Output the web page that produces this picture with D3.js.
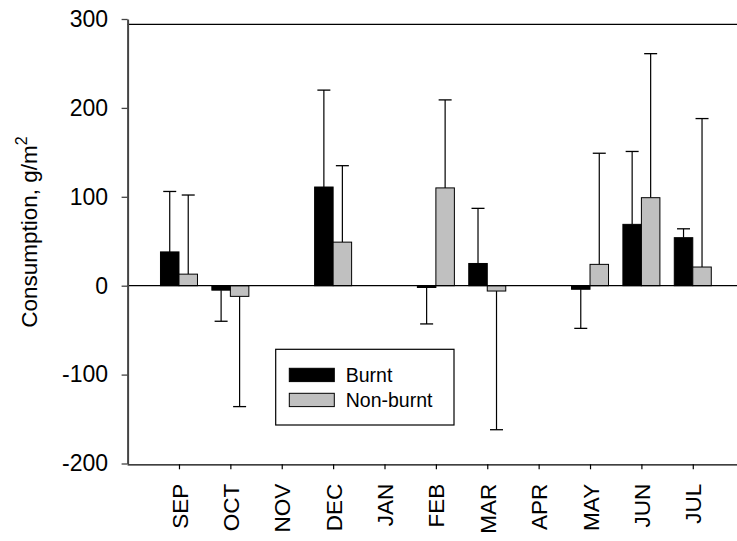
<!DOCTYPE html>
<html>
<head>
<meta charset="utf-8">
<script src="https://cdn.jsdelivr.net/npm/d3@7"></script>
<style>
  html, body { margin: 0; padding: 0; background: #fff; }
  svg { display: block; font-family: "Liberation Sans", Arial, sans-serif; }
</style>
</head>
<body>
<svg id="chart" width="737" height="541"></svg>
<script>
// Monthly consumption (g/m²) with one-sided error bars
const months = ["SEP", "OCT", "NOV", "DEC", "JAN", "FEB", "MAR", "APR", "MAY", "JUN", "JUL"];
const burnt = [38, -5, 0, 111, 0, -2, 25, 0, -4, 69, 54];
const burntErr = [68, 35, 0, 109, 0, 41, 62, 0, 44, 82, 10];
const nonBurnt = [13, -12, 0, 49, 0, 110, -6, 0, 24, 99, 21];
const nonBurntErr = [89, 124, 0, 86, 0, 99, 156, 0, 125, 162, 167];
const yTicks = [-200, -100, 0, 100, 200, 300];
const seriesNames = ["Burnt", "Non-burnt"];
const seriesFills = ["#000000", "#c0c0c0"];

const svg = d3.select("#chart");
const W = 737, H = 541;
const FONT = "Liberation Sans, Arial, sans-serif";

// position scale: month i sits at index i+1
const x = d3.scaleLinear().domain([0, 12]).range([127.6, 127.6 + 12 * 51.38]);
const y = d3.scaleLinear().domain([-200, 300]).range([463.5, 19]);
const barW = 18.5;
const capW = 13;

const rows = months.map((m, i) => ({
  m, i,
  vals: [
    { s: 0, v: burnt[i], e: burntErr[i] },
    { s: 1, v: nonBurnt[i], e: nonBurntErr[i] }
  ]
}));

// top frame line
svg.append("line")
  .attr("x1", x(0)).attr("x2", W)
  .attr("y1", 24.3).attr("y2", 24.3)
  .attr("stroke", "#000").attr("stroke-width", 1.3);

// error bars (drawn away from zero)
const g = svg.append("g");
rows.forEach(r => {
  r.vals.forEach(d => {
    if (d.e === 0) return;
    const cx = x(r.i + 1) + (d.s === 0 ? -barW / 2 : barW / 2);
    const end = d.v >= 0 ? d.v + d.e : d.v - d.e;
    g.append("line")
      .attr("x1", cx).attr("x2", cx)
      .attr("y1", y(d.v)).attr("y2", y(end))
      .attr("stroke", "#000").attr("stroke-width", 1.2);
    g.append("line")
      .attr("x1", cx - capW / 2).attr("x2", cx + capW / 2)
      .attr("y1", y(end)).attr("y2", y(end))
      .attr("stroke", "#000").attr("stroke-width", 1.3);
  });
});

// bars
rows.forEach(r => {
  r.vals.forEach(d => {
    if (d.v === 0) return;
    const x0 = d.s === 0 ? x(r.i + 1) - barW : x(r.i + 1);
    g.append("rect")
      .attr("x", x0)
      .attr("y", y(Math.max(0, d.v)))
      .attr("width", barW)
      .attr("height", Math.abs(y(d.v) - y(0)))
      .attr("fill", seriesFills[d.s])
      .attr("stroke", "#000")
      .attr("stroke-width", 1);
  });
});

// zero line
svg.append("line")
  .attr("x1", x(0)).attr("x2", W)
  .attr("y1", y(0)).attr("y2", y(0))
  .attr("stroke", "#000").attr("stroke-width", 1.3);

// x axis
const xAxis = svg.append("g")
  .attr("transform", `translate(0,${464.3})`)
  .call(d3.axisBottom(x)
    .tickValues(d3.range(1, 12))
    .tickFormat(d => months[d - 1])
    .tickSize(5)
    .tickSizeOuter(0));
xAxis.select(".domain").attr("d", `M${x(0)},0.5H${W}`).attr("stroke", "#000").attr("stroke-width", 1.3);
xAxis.selectAll(".tick line").attr("stroke", "#000").attr("stroke-width", 1.2);
xAxis.selectAll(".tick text")
  .attr("font-size", 22.5)
  .attr("fill", "#000")
  .attr("font-family", FONT)
  .attr("transform", "rotate(-90)")
  .attr("text-anchor", "end")
  .attr("x", -19.5)
  .attr("y", 0)
  .attr("dy", "0.36em");

// y axis
const yAxis = svg.append("g")
  .attr("transform", `translate(${x(0)},0)`)
  .call(d3.axisLeft(y).tickValues(yTicks).tickFormat(d => String(d)).tickSize(6).tickSizeOuter(0));
yAxis.select(".domain").attr("stroke", "#444").attr("stroke-width", 2);
yAxis.selectAll(".tick line").attr("stroke", "#444").attr("stroke-width", 1.3);
yAxis.selectAll(".tick text")
  .attr("font-size", 23)
  .attr("fill", "#000")
  .attr("font-family", FONT)
  .attr("x", -19.5);

// y axis title with superscript
const title = svg.append("text")
  .attr("transform", "translate(37,232) rotate(-90)")
  .attr("text-anchor", "middle")
  .attr("font-size", 22.5)
  .attr("font-family", FONT)
  .attr("fill", "#000");
title.append("tspan").text("Consumption, g/m");
title.append("tspan").attr("font-size", 16).attr("dy", -10).text("2");

// legend
const leg = svg.append("g").attr("transform", "translate(275.7,349.3)");
leg.append("rect")
  .attr("width", 178.3).attr("height", 75.7)
  .attr("fill", "#fff").attr("stroke", "#000").attr("stroke-width", 1.2);
seriesNames.forEach((name, k) => {
  leg.append("rect")
    .attr("x", 13.6).attr("y", 19 + k * 25)
    .attr("width", 45).attr("height", 13.3)
    .attr("fill", seriesFills[k]).attr("stroke", "#000").attr("stroke-width", 1);
  leg.append("text")
    .attr("x", 70).attr("y", 25.7 + k * 25)
    .attr("dy", "0.36em")
    .attr("font-size", 19.5)
    .attr("font-family", FONT)
    .attr("fill", "#000")
    .text(name);
});
</script>
</body>
</html>
